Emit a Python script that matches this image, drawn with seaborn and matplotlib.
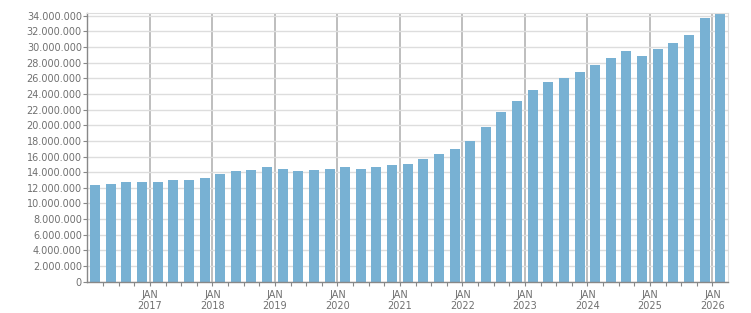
import matplotlib
matplotlib.use("Agg")
import matplotlib.pyplot as plt
import matplotlib.ticker as mticker
import numpy as np
import pandas as pd
import seaborn as sns

# quarterly values, 2016 Q1 .. 2026 Q1
quarters = [f"{y}Q{q}" for y in range(2016, 2027) for q in range(1, 5)][:41]
values = [12.4, 12.5, 12.8, 12.8, 12.8, 13.0, 13.0, 13.3, 13.8, 14.1,
          14.3, 14.6, 14.45, 14.2, 14.3, 14.45, 14.6, 14.45, 14.6, 14.85,
          15.1, 15.7, 16.35, 17.0, 18.0, 19.8, 21.75, 23.15, 24.55, 25.5,
          26.0, 26.75, 27.65, 28.55, 29.45, 28.8, 29.7, 30.5, 31.5, 33.7,
          34.3]
values = [v * 1e6 for v in values]
years = list(range(2017, 2027))

df = pd.DataFrame({"quarter": quarters, "value": values})

sns.set_style("white")
plt.rcParams["font.family"] = ["DejaVu Sans"]

fig = plt.figure(figsize=(7.51, 3.13), dpi=100)
ax = fig.add_axes([0.1164, 0.1, 0.853, 0.8575])

sns.barplot(data=df, x="quarter", y="value", color="#78b1d3", saturation=1,
            width=0.64, linewidth=0, edgecolor="none", ax=ax)

ax.set_xlim(-0.5, len(quarters) - 0.5)
ax.set_ylim(0, max(values))

# year ticks at january boundaries
ax.set_xticks([3.5 + 4 * i for i in range(len(years))])
ax.set_xticklabels([f"JAN\n{y}" for y in years], linespacing=1.15)
ax.set_xticks([i + 0.5 for i in range(len(quarters) - 1)], minor=True)
ax.set_yticks(np.arange(0, 34e6 + 1, 2e6))
ax.yaxis.set_major_formatter(mticker.FuncFormatter(lambda v, p: f"{int(v):,}".replace(",", ".")))

ax.set_xlabel("")
ax.set_ylabel("")

ax.set_axisbelow(True)
ax.yaxis.grid(True, color="#dddddd", linewidth=1)
ax.xaxis.grid(True, which="major", color="#b3b3b3", linewidth=1.2)

for s in ["top", "right"]:
    ax.spines[s].set_visible(True)
    ax.spines[s].set_color("#dddddd")
for s in ["left", "bottom"]:
    ax.spines[s].set_color("#888888")
    ax.spines[s].set_linewidth(1)

ax.tick_params(axis="both", which="both", direction="out", colors="#888888",
               labelcolor="#707070", labelsize=7, width=0.8)
ax.tick_params(axis="y", length=3, pad=1)
ax.tick_params(axis="x", which="major", length=3, pad=3)
ax.tick_params(axis="x", which="minor", length=3)
ax.tick_params(left=True, bottom=True)
ax.tick_params(axis="x", which="minor", bottom=True)

plt.savefig("out.png", dpi=100)
